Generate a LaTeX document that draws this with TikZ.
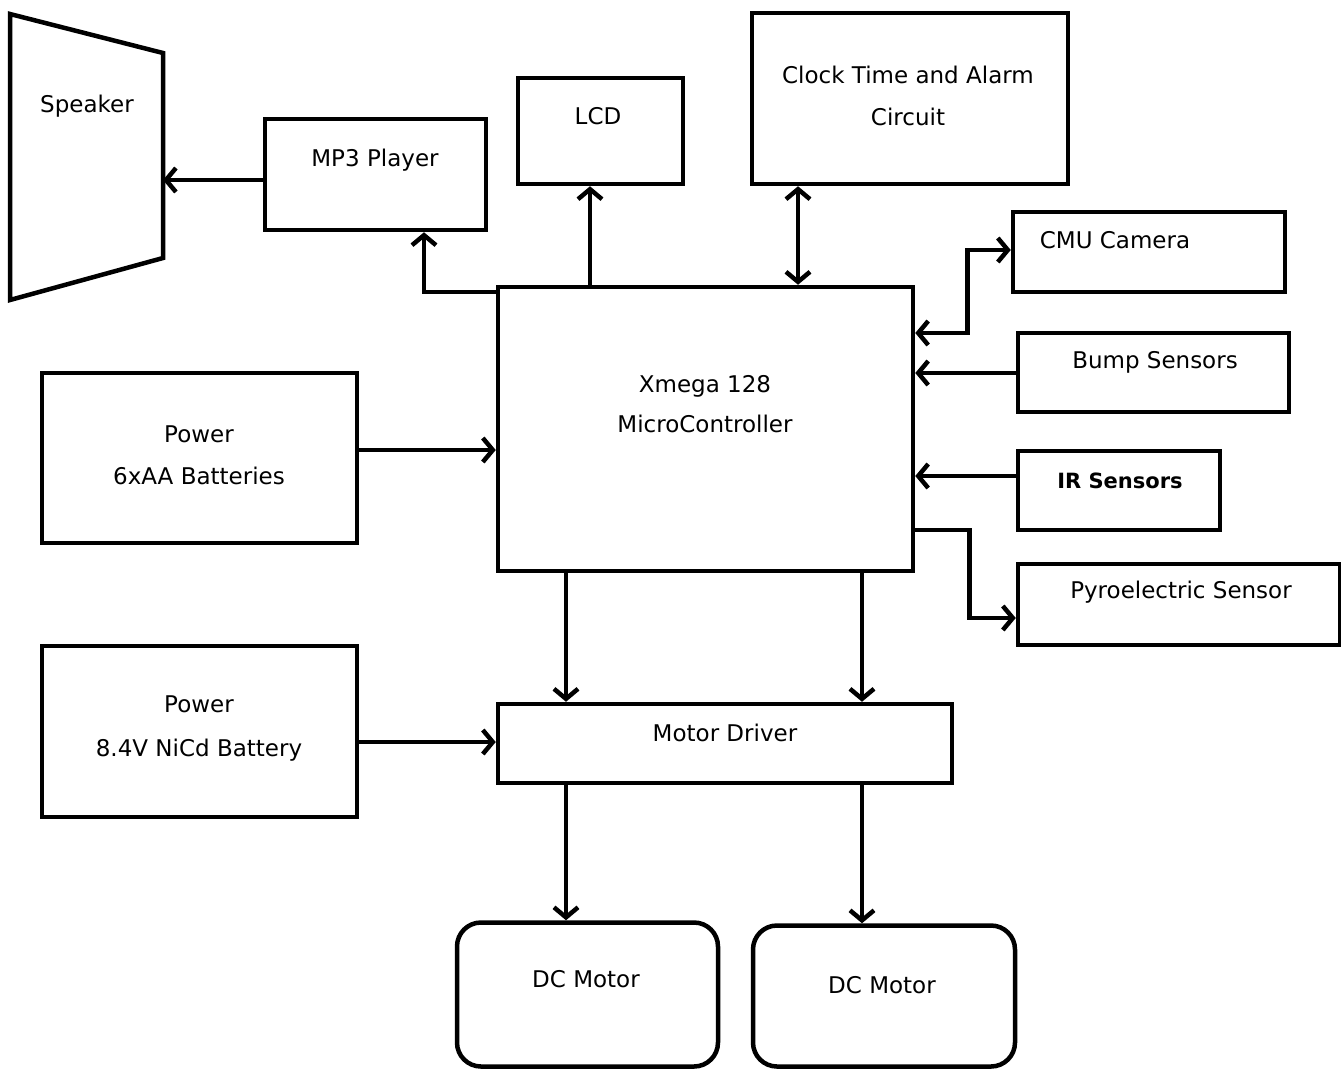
\documentclass[tikz,border=0pt]{standalone}
\usepackage{fontspec}
\setmainfont{DejaVu Sans}
\usetikzlibrary{arrows.meta}
\begin{document}
\begin{tikzpicture}[x=1pt, y=-1pt, line width=4.5pt,
    box/.style={draw, rectangle, inner sep=0pt},
    motorbox/.style={box, rounded corners=24pt},
    txt/.style={align=center, inner sep=0pt, font=\fontsize{23}{42}\selectfont},
    arr/.style={-{Straight Barb[length=10pt,width=24pt]}},
    dbl/.style={{Straight Barb[length=10pt,width=24pt]}-{Straight Barb[length=10pt,width=24pt]}}]
  \useasboundingbox (0,0) rectangle (1341,1069);

  % speaker
  \draw (10,14) -- (163,53) -- (163,258) -- (10,300) -- cycle;
  \coordinate (spk) at (163,180);
  \node[txt] (spk-t) at (87,106) {Speaker};

  % boxes
  \node[box, minimum width=221pt, minimum height=111pt] (mp3) at (375.5,174.5) {};
  \node[box, minimum width=165pt, minimum height=106pt] (lcd) at (600.5,131) {};
  \node[box, minimum width=316pt, minimum height=171pt] (clock) at (910,98.5) {};
  \node[box, minimum width=272pt, minimum height=80pt] (cmu) at (1149,252) {};
  \node[box, minimum width=271pt, minimum height=79pt] (bump) at (1153.5,372.5) {};
  \node[box, minimum width=202pt, minimum height=79pt] (ir) at (1119,490.5) {};
  \node[box, minimum width=322pt, minimum height=81pt] (pyro) at (1179,604.5) {};
  \node[box, minimum width=415pt, minimum height=284pt] (mcu) at (705.5,429) {};
  \node[box, minimum width=315pt, minimum height=170pt] (pwra) at (199.5,458) {};
  \node[box, minimum width=315pt, minimum height=171pt] (pwrb) at (199.5,731.5) {};
  \node[box, minimum width=454pt, minimum height=79pt] (drv) at (725,743.5) {};
  \node[motorbox, minimum width=261pt, minimum height=144pt] (dca) at (587.5,994.5) {};
  \node[motorbox, minimum width=262pt, minimum height=141pt] (dcb) at (884,996) {};

  % texts
  \node[txt] (mp3-t) at (375,160) {MP3 Player};
  \node[txt] (lcd-t) at (598,116) {LCD};
  \node[txt] (clock-t) at (908,96) {Clock Time and Alarm\\Circuit};
  \node[txt] (cmu-t) at (1115,240) {CMU Camera};
  \node[txt] (bump-t) at (1155,362) {Bump Sensors};
  \node[txt, font=\fontsize{21}{26}\selectfont\bfseries] (ir-t) at (1120,481) {IR Sensors};
  \node[txt] (pyro-t) at (1181,592) {Pyroelectric Sensor};
  \node[txt, font=\fontsize{23}{40}\selectfont] (mcu-t) at (705,404) {Xmega 128\\MicroController};
  \node[txt] (pwra-t) at (199,455) {Power\\6xAA Batteries};
  \node[txt, font=\fontsize{23}{44}\selectfont] (pwrb-t) at (199,728) {Power\\8.4V NiCd Battery};
  \node[txt] (drv-t) at (725,733) {Motor Driver};
  \node[txt] (dca-t) at (586,979) {DC Motor};
  \node[txt] (dcb-t) at (882,985) {DC Motor};

  % connectors
  \draw[arr] (mp3.west |- spk) -- (spk);
  \draw[arr] (mcu.west |- 0,292) -| (mp3.south -| 424,0);
  \draw[arr] (mcu.north -| 590,0) -- (lcd.south -| 590,0);
  \draw[dbl] (mcu.north -| 798,0) -- (clock.south -| 798,0);
  \draw[dbl] (mcu.east |- 0,333) -- ++(52,0) |- (cmu.west |- 0,250);
  \draw[arr] (bump.west |- 0,373) -- (mcu.east |- 0,373);
  \draw[arr] (ir.west |- 0,476) -- (mcu.east |- 0,476);
  \draw[arr] (mcu.east |- 0,530) -- ++(54,0) |- (pyro.west |- 0,618);
  \draw[arr] (pwra.east |- 0,450) -- (mcu.west |- 0,450);
  \draw[arr] (pwrb.east |- 0,742) -- (drv.west |- 0,742);
  \draw[arr] (mcu.south -| 566,0) -- (drv.north -| 566,0);
  \draw[arr] (mcu.south -| 862,0) -- (drv.north -| 862,0);
  \draw[arr] (drv.south -| 566,0) -- (dca.north -| 566,0);
  \draw[arr] (drv.south -| 862,0) -- (dcb.north -| 862,0);
\end{tikzpicture}
\end{document}
